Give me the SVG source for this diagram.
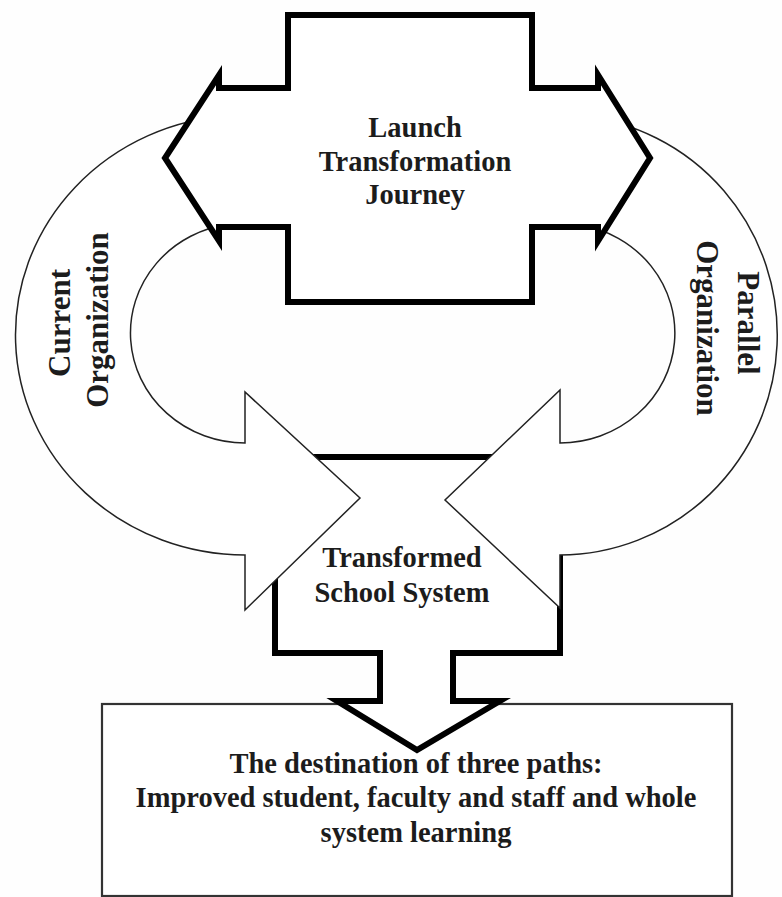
<svg xmlns="http://www.w3.org/2000/svg" width="782" height="897" viewBox="0 0 782 897">
<style>
.bg{fill:#fefefe}
.thick{fill:#fff;stroke:#000;stroke-width:6;stroke-linejoin:miter;stroke-miterlimit:6}
.thin{fill:#fff;stroke:#222;stroke-width:1.5;stroke-linejoin:miter}
.box{fill:#fff;stroke:#333;stroke-width:2.2}
.t{font-family:"Liberation Serif","Times New Roman",serif;font-weight:bold;font-size:28.5px;fill:#1c1c1c;text-anchor:middle}
.r{font-family:"Liberation Serif","Times New Roman",serif;font-weight:bold;font-size:31px;fill:#1c1c1c;text-anchor:middle}
</style>
<rect class="bg" x="0" y="0" width="782" height="897"/>
<g id="destination">
<rect class="box" x="102" y="704" width="630" height="192"/>
<text class="t" x="416" y="773">The destination of three paths:</text>
<text class="t" x="416" y="807">Improved student, faculty and staff and whole</text>
<text class="t" x="416" y="842">system learning</text>
</g>
<g id="transformed">
<path class="thick" d="M275,457 L560,457 L560,653 L453,653 L453,701 L500,701 L417,750 L337,701 L380,701 L380,653 L275,653 Z"/>
</g>
<g id="connectors">
<g id="current-organization">
<path class="thin" d="M230,115.5 A230,220 0 0 0 245,555 L245,610 L360,498 L245,392 L245,443 A115,110 0 0 1 230,224 Z"/>
<text class="r" transform="translate(70,323) rotate(-90)">Current</text>
<text class="r" transform="translate(108,320) rotate(-90)">Organization</text>
</g>
<g id="parallel-organization">
<path class="thin" d="M580,116 A218,220 0 0 1 560,555 L560,608 L445,500 L560,390 L560,443 A115,110 0 0 0 580,224.7 Z"/>
<text class="r" transform="translate(738,323) rotate(90)">Parallel</text>
<text class="r" transform="translate(697,328) rotate(90)">Organization</text>
</g>
</g>
<g id="launch">
<path class="thick" d="M288,15 L532,15 L532,88 L598,88 L598,75 L650,158 L598,241 L598,227 L532,227 L532,302 L288,302 L288,227 L219,227 L219,241 L165,158 L219,75 L219,88 L288,88 Z"/>
<text class="t" x="415" y="137">Launch</text>
<text class="t" x="415" y="171">Transformation</text>
<text class="t" x="415" y="204">Journey</text>
</g>
<g id="transformed-label">
<text class="t" x="402" y="567">Transformed</text>
<text class="t" x="402" y="602">School System</text>
</g>
</svg>
